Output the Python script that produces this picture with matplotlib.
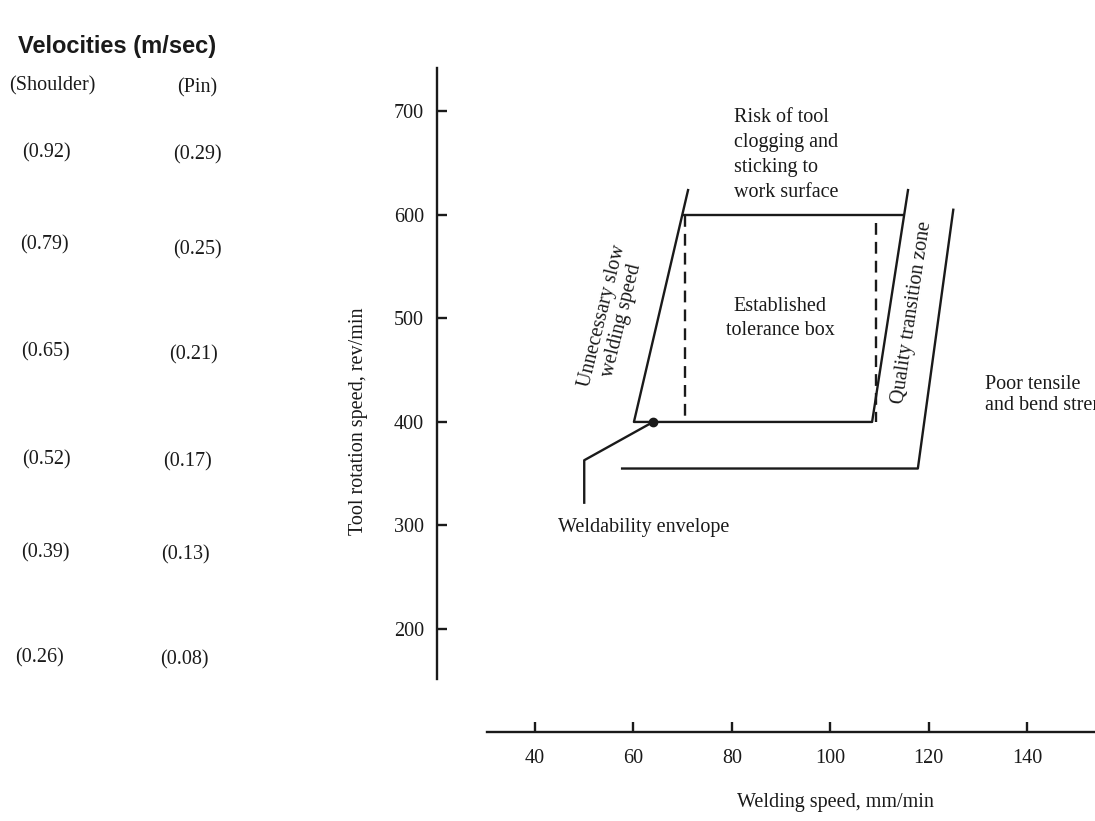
import numpy as np
import matplotlib.pyplot as plt

# Velocity table (left side)
shoulder = ['(0.92)', '(0.79)', '(0.65)', '(0.52)', '(0.39)', '(0.26)']
pin = ['(0.29)', '(0.25)', '(0.21)', '(0.17)', '(0.13)', '(0.08)']

# Weldability diagram outlines (welding speed mm/min, rotation rev/min)
box_x = [71.1, 60.1, 108.5, 115.8]
box_y = [624, 400, 400, 624]
top_x = [70.3, 114.8]
top_y = [600, 600]
dash_left_x = [70.5, 70.5]
dash_left_y = [600, 400]
dash_right_x = [109.2, 109.2]
dash_right_y = [592, 400]
outer_x = [125.0, 117.8, 57.7]
outer_y = [605, 355, 355]
leader_x = [64, 50, 50]
leader_y = [400, 363, 322]

xticks = [40, 60, 80, 100, 120, 140]
yticks = [200, 300, 400, 500, 600, 700]

serif = ['Liberation Serif', 'DejaVu Serif']
ink = '#1a1a1a'
fs = 14.5

fig = plt.figure(figsize=(10.95, 8.21), dpi=100)
ax = fig.add_axes([400 / 1095, 1 - 760 / 821, 695 / 1095, 720 / 821])
ax.set_xlim(12.56, 153.8)
ax.set_ylim(73.4, 769)

for s in ['top', 'right']:
    ax.spines[s].set_visible(False)
ax.spines['left'].set_position(('data', 20))
ax.spines['left'].set_bounds(152, 742)
ax.spines['bottom'].set_position(('data', 100))
ax.spines['bottom'].set_bounds(30.2, 153.8)
for s in ['left', 'bottom']:
    ax.spines[s].set_linewidth(1.7)
    ax.spines[s].set_color(ink)

ax.set_xticks(xticks)
ax.set_yticks(yticks)
ax.tick_params(axis='both', direction='in', length=7, width=1.7, color=ink,
               labelsize=fs)
ax.tick_params(axis='x', pad=12)
ax.tick_params(axis='y', pad=9)
for lab in ax.get_xticklabels() + ax.get_yticklabels():
    lab.set_family(serif)
    lab.set_color(ink)

ax.text(0.627, -0.0597, 'Welding speed, mm/min', transform=ax.transAxes,
        ha='center', va='center', family=serif, fontsize=fs, color=ink)
ax.text(-0.0604, 0.471, 'Tool rotation speed, rev/min', transform=ax.transAxes,
        rotation=90, ha='center', va='center', family=serif, fontsize=fs, color=ink)

lw = 1.7
ax.plot(box_x, box_y, color=ink, lw=lw)
ax.plot(top_x, top_y, color=ink, lw=lw)
ax.plot(outer_x, outer_y, color=ink, lw=lw)
ax.plot(leader_x, leader_y, color=ink, lw=lw)
ax.plot(dash_left_x, dash_left_y, color=ink, lw=lw, ls=(0, (5, 3)))
ax.plot(dash_right_x, dash_right_y, color=ink, lw=lw, ls=(0, (5, 3)))
ax.plot([64], [400], 'o', color=ink, ms=6)

ax.text(80.5, 703, 'Risk of tool\nclogging and\nsticking to\nwork surface',
        ha='left', va='top', family=serif, fontsize=fs, color=ink, linespacing=1.42)
ax.text(89.8, 500, 'Established\ntolerance box', ha='center', va='center',
        family=serif, fontsize=fs, color=ink, linespacing=1.3)
ax.text(55.6, 500, 'Unnecessary slow\nwelding speed', ha='center', va='center',
        rotation=76, family=serif, fontsize=fs, color=ink, linespacing=1.05)
ax.text(116.6, 506, 'Quality transition zone', ha='center', va='center',
        rotation=81.5, family=serif, fontsize=fs, color=ink)
ax.text(131.5, 426, 'Poor tensile\nand bend strength', ha='left', va='center',
        family=serif, fontsize=fs, color=ink, linespacing=1.12)
ax.text(62, 298, 'Weldability envelope', ha='center', va='center',
        family=serif, fontsize=fs, color=ink)

# Left-hand velocity table in figure pixels
def fy(py):
    return 1 - py / 821

fig.text(18 / 1095, fy(47), 'Velocities (m/sec)', ha='left', va='center',
         family=['Liberation Sans', 'DejaVu Sans'], fontweight='bold', fontsize=17, color=ink)
fig.text(52 / 1095, fy(86), '(Shoulder)', ha='center', va='center', family=serif,
         fontsize=fs, color=ink)
fig.text(197 / 1095, fy(88), '(Pin)', ha='center', va='center', family=serif,
         fontsize=fs, color=ink)

shoulder_x = [46, 44, 45, 46, 45, 39]
shoulder_py = [153, 245, 352, 460, 553, 658]
pin_x = [197, 197, 193, 188, 185, 184]
pin_py = [155, 250, 355, 462, 555, 660]
for s, x, y in zip(shoulder, shoulder_x, shoulder_py):
    fig.text(x / 1095, fy(y), s, ha='center', va='center', family=serif,
             fontsize=fs, color=ink)
for p, x, y in zip(pin, pin_x, pin_py):
    fig.text(x / 1095, fy(y), p, ha='center', va='center', family=serif,
             fontsize=fs, color=ink)

fig.savefig('out.png', dpi=100)
